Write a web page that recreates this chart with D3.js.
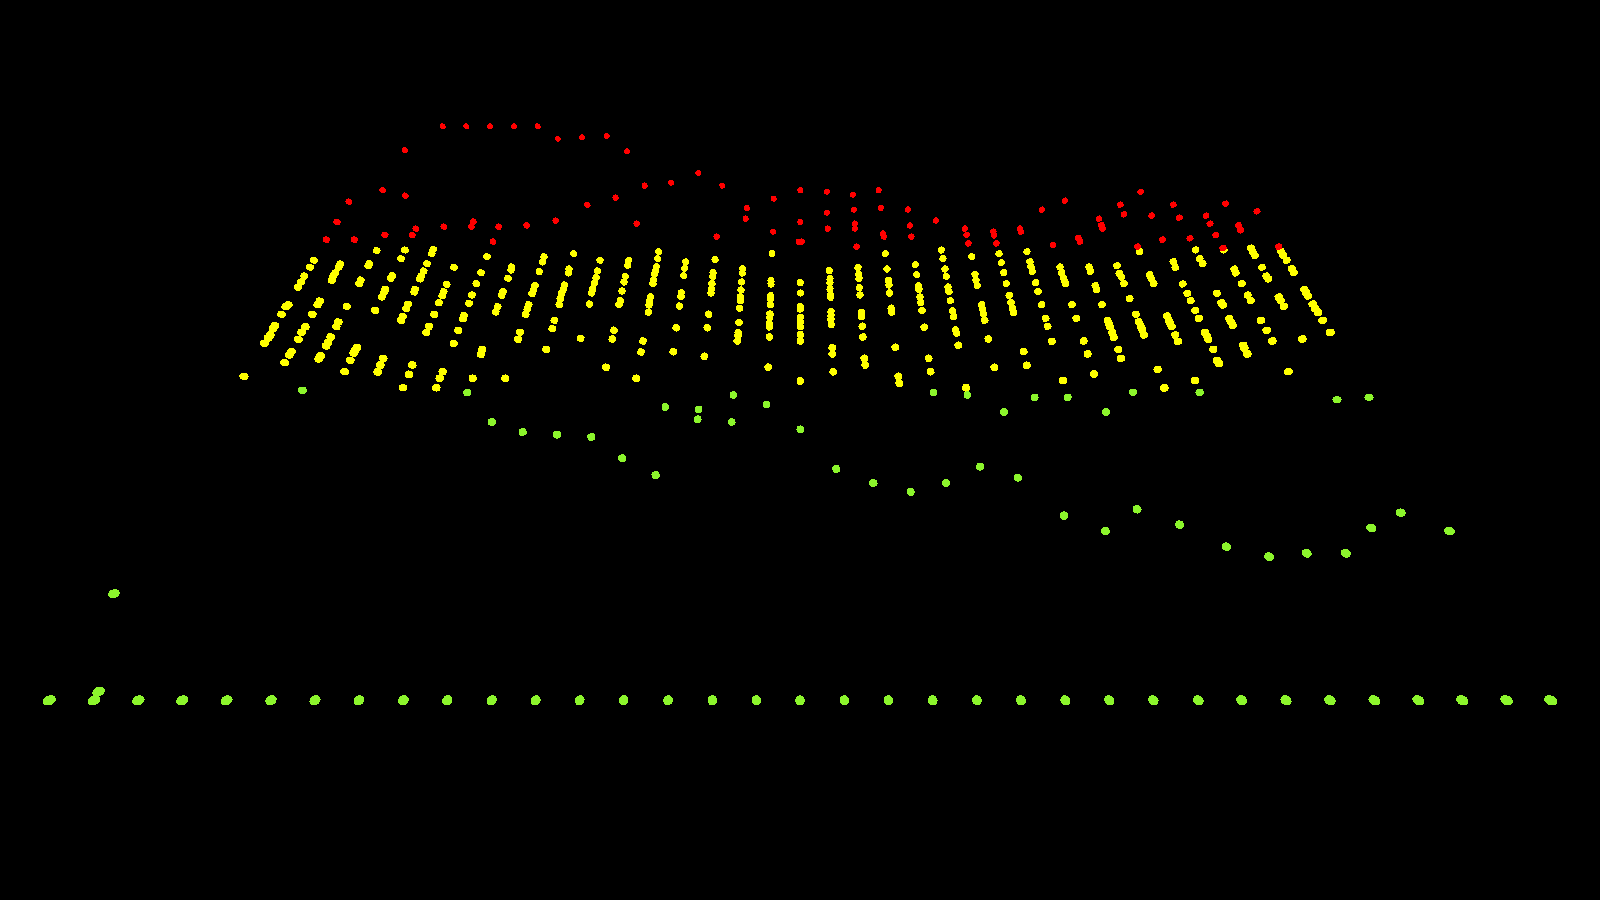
<!DOCTYPE html>
<html><head><meta charset="utf-8">
<script src="https://cdn.jsdelivr.net/npm/d3@7"></script>
<style>html,body{margin:0;padding:0;background:#000;overflow:hidden}svg{display:block}</style>
</head><body><div id="chart"></div>
<script>
// Projected positions, in units of 1/3 picture pixel.
const redPoints = [[1328,379],[1399,379],[1470,379],[1542,379],[1613,379],[1673,416],[1746,412],[1820,408],[1215,451],[1148,571],[1047,605],[1216,587],[1762,615],[1011,666],[1420,665],[1667,662],[1248,686],[1332,680],[1414,680],[1496,680],[1580,676],[979,719],[1063,719],[1155,705],[1237,705],[1479,725],
[1881,454],[1934,557],[2013,548],[2095,519],[2167,557],[1847,593],[1910,671],[2150,710],[2240,624],[2237,656],[2321,596],[2319,695],[2401,571],[2401,666],[2397,725],[2405,725],[2481,575],[2481,638],[2483,686],[2559,584],[2562,629],[2565,671],[2565,686],[2570,740],[2636,571],[2642,624],[2649,701],[2652,710],[2724,629],[2730,677],[2734,710],[2808,662],[2895,686],[2900,705],[2905,730],
[3422,575],[3195,602],[3126,629],[3361,614],[3372,643],[3520,614],[3455,647],[3538,653],[3677,611],[3771,634],[3618,647],[3630,671],[3648,705],[3715,676],[3722,691],[3297,656],[3304,675],[3308,686],[3060,686],[3063,695],[2980,695],[2982,706],[2989,730],[3235,714],[3240,725],[3159,735],[3413,740],[3488,719],[3570,715],[3669,744],[3836,740]];

const yellowPoints = [[942,781],[930,802],[913,828],[903,846],[894,862],[1021,792],[1016,801],[1006,819],[1000,828],[995,841],[1130,752],[1108,791],[1105,797],[1082,840],[1078,851],[1215,750],[1203,776],[1177,827],[1172,835],[1156,868],[1152,877],[1145,891],[1300,748],[1295,761],[1281,791],[1271,813],[1264,828],[1260,837],[1245,868],[1243,876],[1362,802],[1340,853],[1331,875],[1327,887],[1317,908],[1303,943],[1287,979],[1279,998],[1461,770],[1443,818],[1429,851],[1416,885],[1407,910],[1392,947],[1389,956],[1375,991],[1361,1030],[1632,770],[1627,786],[1618,815],[1605,857],[1600,870],[1596,881],[1586,914],[1582,927],[1577,943],[1560,997],[1554,1018],[1535,801],[1533,810],[1524,835],[1509,875],[1505,886],[1493,920],[1487,936],[1447,1048],[1443,1063],[1721,761],[1707,807],[1705,819],[1694,855],[1690,868],[1685,880],[1681,896],[1678,914],[1663,961],[1657,986],[1639,1048],[1800,781],[1792,813],[1788,833],[1783,850],[1778,868],[1775,879],[1768,912],[1742,1015],[865,914],[857,920],[845,943],[825,977],[819,986],[811,1005],[804,1014],[793,1030],[959,903],[953,914],[937,943],[916,980],[905,997],[895,1018],[875,1054],[868,1065],[854,1088],[1040,919],[1015,966],[1009,980],[992,1011],[984,1028],[978,1038],[962,1067],[956,1077],[1071,1042],[1066,1050],[1061,1059],[1051,1081],[1034,1115],[1125,931],[1224,913],[1219,926],[1208,949],[1203,961],[1150,1075],[1141,1095],[1133,1116],[1237,1095],[1227,1123],[1209,1163],[1328,1115],[1319,1135],[1309,1163],[1418,1135],[1516,1135],[732,1129],[1818,1102],
[1976,755],[1973,776],[1969,800],[1966,813],[1964,822],[1961,840],[1959,851],[1886,781],[1883,796],[1876,829],[1872,846],[1866,873],[1861,902],[1857,914],[2057,786],[2054,805],[2051,827],[2044,878],[2043,890],[2038,918],[1952,891],[1949,904],[1947,915],[1945,937],[2145,779],[2139,818],[2138,830],[2136,851],[2134,867],[2133,879],[2126,943],[2122,983],[2029,983],[2020,1055],[2113,1069],[2228,806],[2227,819],[2225,846],[2223,870],[2221,890],[2221,902],[2219,925],[2217,967],[2215,998],[2214,1008],[2212,1023],[1929,1023],[1923,1056],[1909,1135],[1842,991],[1837,1017],[2316,761],[2313,842],[2313,852],[2312,887],[2311,898],[2311,914],[2310,942],[2309,953],[2308,970],[2308,981],[2308,1011],[2305,1102],[2401,848],[2401,879],[2401,920],[2401,927],[2401,952],[2401,965],[2401,980],[2401,1004],[2401,1023],[2401,1143],[2488,812],[2490,836],[2490,848],[2490,867],[2491,885],[2492,892],[2493,935],[2493,947],[2493,958],[2494,974],[2497,1043],[2497,1062],[2500,1115],[2574,802],[2576,823],[2577,835],[2578,863],[2580,885],[2584,937],[2585,950],[2587,979],[2589,1011],[2593,1075],[2596,1095],[2656,761],[2661,807],[2665,841],[2667,855],[2669,879],[2674,925],[2675,937],[2686,1042],[2695,1129],[2698,1150],[2746,794],[2750,824],[2755,857],[2757,868],[2760,891],[2762,908],[2766,931],[2773,982],[2786,1075],[2792,1115],[2824,750],[2829,776],[2835,807],[2839,829],[2844,861],[2847,875],[2851,902],[2857,933],[2861,950],[2867,990],[2870,999],[2875,1036],[2898,1163],
[2915,770],[2925,823],[2928,841],[2932,857],[2997,761],[3004,788],[3011,818],[3019,851],[3028,886],[3033,907],[3037,925],[3041,938],[2965,1017],[2983,1102],[2945,914],[2947,927],[2950,942],[2954,961],[3081,755],[3090,785],[3093,800],[3097,814],[3107,848],[3114,874],[3125,914],[3137,955],[3143,979],[3156,1024],[3071,1055],[3080,1096],[3180,801],[3185,818],[3191,835],[3194,844],[3197,851],[3216,914],[3229,955],[3251,1023],[3263,1062],[3282,1122],[3189,1142],[3267,801],[3271,814],[3286,857],[3290,869],[3306,914],[3323,961],[3327,972],[3330,980],[3337,998],[3341,1012],[3355,1048],[3363,1075],[3351,797],[3358,820],[3364,831],[3372,851],[3389,896],[3408,943],[3416,965],[3422,978],[3426,988],[3432,1005],[3473,1108],[3493,1164],[3419,755],[3449,824],[3454,836],[3461,851],[3501,948],[3506,960],[3510,970],[3515,980],[3526,1005],[3534,1024],[3548,852],[3562,880],[3572,902],[3586,931],[3597,955],[3615,997],[3620,1007],[3625,1018],[3640,1048],[3651,1081],[3657,1091],[3585,1142],[3520,785],[3526,803],[3587,750],[3599,776],[3608,791],[3651,880],[3664,908],[3669,915],[3688,956],[3693,966],[3698,976],[3730,1036],[3733,1044],[3742,1062],[3865,1115],[3671,750],[3703,807],[3707,819],[3725,851],[3743,885],[3752,902],[3783,961],[3800,991],[3817,1023],[3907,1017],[3753,744],[3758,755],[3765,767],[3786,802],[3799,828],[3805,837],[3836,891],[3842,902],[3852,919],[3913,868],[3918,878],[3924,888],[3938,912],[3946,926],[3954,938],[3968,961],[3991,997],[3842,753],[3850,766],[3860,781],[3875,806],[3881,818]];

const greenPoints = [[907,1171],[1402,1178],[1475,1266],[1568,1296],[1671,1304],[1774,1311],[1867,1375],[1967,1425],[1996,1221],[2096,1228],[2093,1258],[2200,1185],[2195,1266],[2299,1214],[2401,1288],[2509,1407],[2800,1177],[2902,1185],[2620,1449],[2732,1476],[2838,1449],[2940,1400],[3054,1433],[3192,1547],[3316,1593],[3411,1528],[3539,1574],[3104,1192],[3203,1192],[3012,1236],[3318,1236],[3399,1177],[3599,1177],[4011,1199],[4107,1192],[3679,1640],[3807,1670],[3920,1660],[4037,1660],[4114,1584],[4202,1538],[4348,1593],[342,1781],[296,2075]];

const floorX = [148,282,415,547,680,813,945,1077,1210,1342,1475,1607,1739,1871,2004,2137,2269,2400,2533,2665,2798,2931,3063,3196,3328,3460,3595,3725,3858,3990,4123,4255,4387,4520,4652];
const floorY = [2101];

const seriesList = [
  {name:"green", color:"#8cf52c", grow:0.3, points: greenPoints.concat(floorX.map(x=>[x,floorY[0]]))},
  {name:"yellow", color:"#ffff00", grow:0.45, points: yellowPoints},
  {name:"red", color:"#ff0000", grow:0.2, points: redPoints}
];

const W = 1600, H = 900;
const x = d3.scaleLinear().domain([0,4800]).range([0,W]);
const y = d3.scaleLinear().domain([0,2700]).range([0,H]);
// nearer points (lower on the picture) are drawn larger
const radius = d3.scaleLinear().domain([125,700]).range([2.55,4.5]);
// perspective stretch away from the view centre
const cx = 800, cy = 400, focal = 800;

const svg = d3.select("#chart").append("svg").attr("width",W).attr("height",H)
  .style("background","#000");

svg.selectAll("g.series").data(seriesList).join("g").attr("class","series")
  .attr("fill",d=>d.color)
  .each(function(s){
    d3.select(this).selectAll("ellipse").data(s.points).join("ellipse")
      .attr("shape-rendering","crispEdges")
      .each(function(p){
        const px=x(p[0]), py=y(p[1]);
        const dx=px-cx, dy=py-cy, dist=Math.hypot(dx,dy);
        const r=radius(py)+s.grow;
        const stretch=Math.sqrt(1+(dist/focal)*(dist/focal));
        const ang=Math.atan2(dy,dx)*180/Math.PI;
        d3.select(this).attr("rx",r*stretch).attr("ry",r)
          .attr("transform",`translate(${px},${py}) rotate(${ang})`);
      });
  });
</script></body></html>
